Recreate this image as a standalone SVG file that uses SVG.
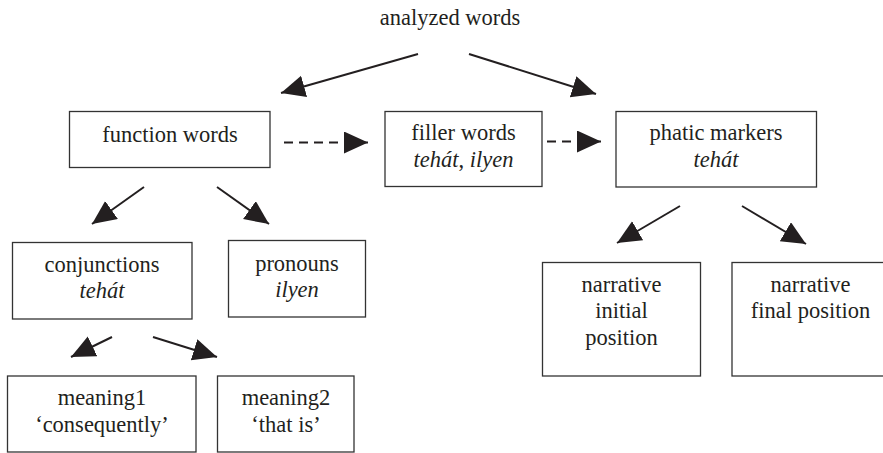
<svg xmlns="http://www.w3.org/2000/svg" width="883" height="453" viewBox="0 0 883 453" font-family="'Liberation Serif', 'Times New Roman', 'DejaVu Serif', serif">
<style>
.box{fill:#fff;stroke:#333;stroke-width:1.3}
text{font-family:'Liberation Serif','Times New Roman','DejaVu Serif',serif;font-size:22.5px;fill:#231f20;text-anchor:middle}
.it{font-style:italic}
.ln{stroke:#231f20;stroke-width:2;fill:none;marker-end:url(#ah)}
.dash{stroke-dasharray:9 6}
</style>
<defs>
<marker id="ah" markerUnits="userSpaceOnUse" markerWidth="26" markerHeight="24" refX="24" refY="11" orient="auto">
<path d="M0,0 L24,11 L0,22 z" fill="#231f20"/>
</marker>
</defs>
<g id="connectors">
<line class="ln" x1="418" y1="54" x2="281" y2="93"/>
<line class="ln" x1="469" y1="54" x2="596" y2="94"/>
<line class="ln dash" x1="284" y1="142.5" x2="368" y2="142.5"/>
<line class="ln dash" x1="547" y1="141.5" x2="601" y2="141.5"/>
<line class="ln" x1="144" y1="187" x2="92" y2="224"/>
<line class="ln" x1="217" y1="187" x2="269" y2="224"/>
<line class="ln" x1="680" y1="206" x2="617" y2="243"/>
<line class="ln" x1="742" y1="206" x2="806" y2="244"/>
<line class="ln" x1="112" y1="337" x2="71" y2="357"/>
<line class="ln" x1="153" y1="337" x2="217" y2="357"/>
</g>
<g id="analyzed"><text x="450" y="25">analyzed words</text></g>
<g id="function"><rect class="box" x="69.5" y="111.5" width="200.5" height="56"/><text x="170" y="142">function words</text></g>
<g id="filler"><rect class="box" x="385" y="111.5" width="157" height="75"/><text x="463.5" y="140">filler words</text><text x="463.5" y="166.5"><tspan class="it">tehát</tspan>, <tspan class="it">ilyen</tspan></text></g>
<g id="phatic"><rect class="box" x="616" y="111.5" width="200.5" height="75.5"/><text x="716" y="140">phatic markers</text><text class="it" x="716" y="166.5">tehát</text></g>
<g id="conjunctions"><rect class="box" x="12.5" y="242.5" width="179.5" height="76.5"/><text x="102" y="271.5">conjunctions</text><text class="it" x="102" y="298">tehát</text></g>
<g id="pronouns"><rect class="box" x="228.5" y="240.5" width="137" height="76.5"/><text x="297" y="271">pronouns</text><text class="it" x="297" y="296.5">ilyen</text></g>
<g id="meaning1"><rect class="box" x="7.5" y="376" width="188.5" height="76"/><text x="102" y="405">meaning1</text><text x="102" y="431.5">‘consequently’</text></g>
<g id="meaning2"><rect class="box" x="217.5" y="376" width="136.5" height="76"/><text x="286" y="405">meaning2</text><text x="286" y="431.5">‘that is’</text></g>
<g id="narrative-initial"><rect class="box" x="542.5" y="262.5" width="158" height="113.5"/><text x="621.5" y="291.5">narrative</text><text x="621.5" y="318">initial</text><text x="621.5" y="344.5">position</text></g>
<g id="narrative-final"><rect class="box" x="732" y="262.5" width="158" height="113.5"/><text x="810.5" y="291.5">narrative</text><text x="810.5" y="318">final position</text></g>
</svg>
